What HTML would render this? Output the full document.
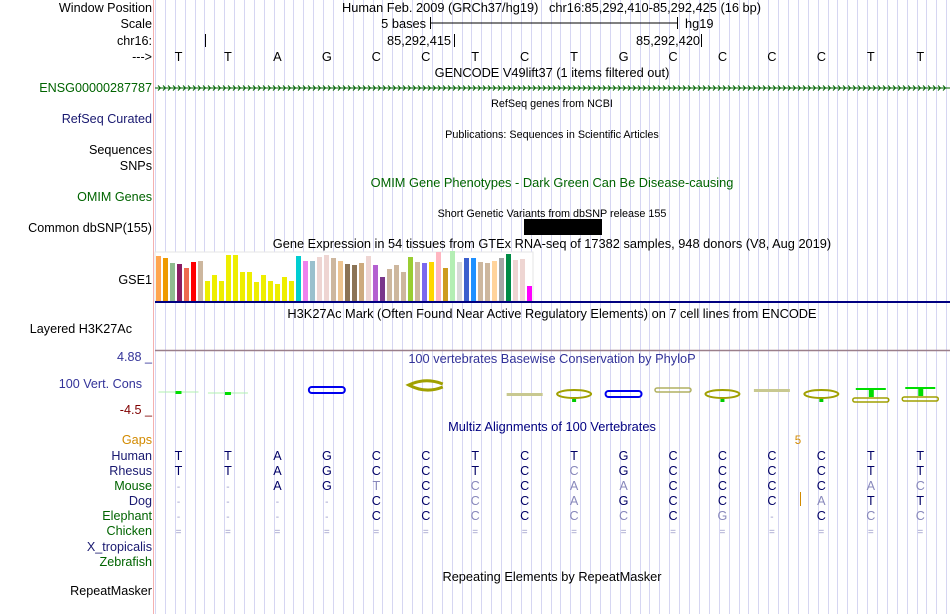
<!DOCTYPE html>
<html><head><meta charset="utf-8"><style>
body{margin:0;background:#fff;width:950px;height:614px;overflow:hidden}
svg{display:block;font-family:"Liberation Sans",sans-serif}
</style></head><body>
<svg id="c" width="950" height="614" viewBox="0 0 950 614">
<g id="grid"></g>
<line x1="153.5" y1="0" x2="153.5" y2="614" stroke="#f4b0b0"/>
<g id="labels" font-size="12.6" text-anchor="end">
<text x="152" y="12">Window Position</text>
<text x="152" y="28">Scale</text>
<text x="152" y="45">chr16:</text>
<text x="152" y="61">---&gt;</text>
<text x="152" y="92" fill="#006400">ENSG00000287787</text>
<text x="152" y="123" fill="#191970">RefSeq Curated</text>
<text x="152" y="154">Sequences</text>
<text x="152" y="170">SNPs</text>
<text x="152" y="201" fill="#006400">OMIM Genes</text>
<text x="152" y="232">Common dbSNP(155)</text>
<text x="152" y="284">GSE1</text>
<text x="132" y="333">Layered H3K27Ac</text>
<text x="152" y="361" fill="#333399">4.88 _</text>
<text x="142" y="388" fill="#333399">100 Vert. Cons</text>
<text x="152" y="414" fill="#800000">-4.5 _</text>
<text x="152" y="444" fill="#d28a00">Gaps</text>
<text x="152" y="460" fill="#191970">Human</text>
<text x="152" y="475" fill="#191970">Rhesus</text>
<text x="152" y="490" fill="#006400">Mouse</text>
<text x="152" y="505" fill="#191970">Dog</text>
<text x="152" y="520" fill="#006400">Elephant</text>
<text x="152" y="535" fill="#006400">Chicken</text>
<text x="152" y="551" fill="#191970">X_tropicalis</text>
<text x="152" y="566" fill="#006400">Zebrafish</text>
<text x="152" y="595">RepeatMasker</text>
</g>
<g font-size="12.8">
<text x="342" y="12">Human Feb. 2009 (GRCh37/hg19)&#160;&#160;&#160;chr16:85,292,410-85,292,425 (16 bp)</text>
<text x="426" y="28" text-anchor="end">5 bases</text>
<line x1="430" y1="23" x2="677" y2="23" stroke="#000"/>
<line x1="430.5" y1="17" x2="430.5" y2="29" stroke="#000"/>
<line x1="677.5" y1="17" x2="677.5" y2="29" stroke="#000"/>
<text x="685" y="28">hg19</text>
<line x1="205.5" y1="34" x2="205.5" y2="47" stroke="#000"/>
<text x="387" y="45">85,292,415</text>
<line x1="454.5" y1="34" x2="454.5" y2="47" stroke="#000"/>
<text x="636" y="45">85,292,420</text>
<line x1="701.5" y1="34" x2="701.5" y2="47" stroke="#000"/>
<g id="bases" text-anchor="middle"></g>
<text x="552" y="77" text-anchor="middle">GENCODE V49lift37 (1 items filtered out)</text>
<line x1="155" y1="88" x2="950" y2="88" stroke="#006400"/>
<g id="arrows" stroke="#006400" fill="none"></g>
<text x="552" y="107" text-anchor="middle" font-size="10.8">RefSeq genes from NCBI</text>
<text x="552" y="138" text-anchor="middle" font-size="10.8">Publications: Sequences in Scientific Articles</text>
<text x="552" y="187" text-anchor="middle" fill="#006400">OMIM Gene Phenotypes - Dark Green Can Be Disease-causing</text>
<text x="552" y="217" text-anchor="middle" font-size="10.8">Short Genetic Variants from dbSNP release 155</text>
<rect x="524" y="219" width="78" height="16" fill="#000"/>
<text x="552" y="248" text-anchor="middle">Gene Expression in 54 tissues from GTEx RNA-seq of 17382 samples, 948 donors (V8, Aug 2019)</text>
<rect x="155" y="252" width="378" height="49" fill="#fff" stroke="#e6e6e6"/>
<g id="gtex"></g>
<line x1="155" y1="302" x2="950" y2="302" stroke="#000080" stroke-width="2"/>
<text x="552" y="318" text-anchor="middle">H3K27Ac Mark (Often Found Near Active Regulatory Elements) on 7 cell lines from ENCODE</text>
<line x1="155" y1="350.5" x2="950" y2="350.5" stroke="#9a7f8a" stroke-width="1.5"/>
<text x="552" y="363" text-anchor="middle" fill="#333399">100 vertebrates Basewise Conservation by PhyloP</text>
<g id="cons"></g>
<text x="552" y="431" text-anchor="middle" fill="#000080">Multiz Alignments of 100 Vertebrates</text>
<text x="798" y="444" text-anchor="middle" fill="#d28a00" font-size="11.5">5</text>
<line x1="800.5" y1="492" x2="800.5" y2="506" stroke="#d28a00"/>
<g id="aln" text-anchor="middle"></g>
<text x="552" y="581" text-anchor="middle">Repeating Elements by RepeatMasker</text>
</g>
</svg>
<script>
const NS='http://www.w3.org/2000/svg';
const bases=['T','T','A','G','C','C','T','C','T','G','C','C','C','C','T','T'];
const gtexHeights=[45,43,38,37,33,39,40,20,26,20,46,46,29,29,19,26,20,17,24,20,45,40,40,44,46,43,40,37,36,38,45,36,24,32,36,29,44,39,38,39,49,33,50,39,43,43,39,38,40,43,47,41,42,15];
const gtexColors=['#FFA54F','#EE9A00','#8FBC8F','#8B1C62','#EE6A50','#FF0000','#CDB79E','#EEEE00','#EEEE00','#EEEE00','#EEEE00','#EEEE00','#EEEE00','#EEEE00','#EEEE00','#EEEE00','#EEEE00','#EEEE00','#EEEE00','#EEEE00','#00CED1','#EE82EE','#9AC0CD','#EED5D2','#EED5D2','#CDB79E','#EEC591','#8B7355','#8B7355','#CDAA7D','#EED5D2','#B460D0','#7A378B','#CDB79E','#CDB79E','#CDB79E','#9ACD32','#CDB79E','#7B68EE','#FFD700','#FFB6C1','#CD9B1D','#B4EEB4','#D9D9D9','#3A5FCD','#1E90FF','#CDB79E','#CDB79E','#FFD39B','#A6A6A6','#008B45','#EED5D2','#EED5D2','#FF00FF'];
const alnRhesus='TTAGCCTCcGCCCCTT';
const alnMouse='--AGtCcCaaCCCCac';
const alnDog='----CCcCaGCCCaTT';
const alnElephant='----CCcCccCg-Ccc';
const alnChicken='================';
const baseX=i=>178.5+49.45*i;
const mk=(tag,attrs,parent)=>{const e=document.createElementNS(NS,tag);for(const k in attrs)e.setAttribute(k,attrs[k]);parent.appendChild(e);return e;};
const grid=document.getElementById('grid');
for(let x=155;x<950;x+=9.89){mk('line',{x1:Math.round(x)+.5,x2:Math.round(x)+.5,y1:0,y2:614,stroke:'#d6d6f2'},grid);}
const bg=document.getElementById('bases');
bases.forEach((b,i)=>{const t=mk('text',{x:baseX(i),y:61},bg);t.textContent=b;

});
const ar=document.getElementById('arrows');
for(let x=158;x<948;x+=5){mk('path',{d:`M${x} 85.5 L${x+2.5} 88 L${x} 90.5`},ar);}
const gt=document.getElementById('gtex');const base=301;
gtexHeights.forEach((h,i)=>{const r=mk('rect',{x:156+7*i,y:base-h,width:5,height:h,fill:gtexColors[i]},gt);

});
const cons=document.getElementById('cons');
const glyphs=[[0,'g',392],[1,'g',393],[3,'bC',390],[5,'oCbig',387],[7,'o-',394],[8,'oC',396],[9,'bC',394],[10,'o=',390],[11,'oC',396],[12,'o-',390],[13,'oC',396],[14,'gT',398],[15,'gT',397]];
glyphs.forEach(([i,k,y])=>{const cx=baseX(i);
 if(k==='g'){mk('line',{x1:cx-20,x2:cx+20,y1:y,y2:y,stroke:'#b0f0b0'},cons);mk('rect',{x:cx-3,y:y-1,width:6,height:3,fill:'#00dd00'},cons);}
 else if(k==='bC'){mk('rect',{x:cx-18,y:y-3,width:36,height:6,rx:3,fill:'none',stroke:'#0000ee',"stroke-width":2},cons);}
 else if(k==='oCbig'){mk('path',{d:`M${cx+17} ${y-3} Q${cx} ${y-10} ${cx-17} ${y-2} Q${cx} ${y+7} ${cx+17} ${y}`,fill:'none',stroke:'#a0a000',"stroke-width":3},cons);}
 else if(k==='o-'){mk('rect',{x:cx-18,y:y-1,width:36,height:3,fill:'#c8c890'},cons);}
 else if(k==='o='){mk('rect',{x:cx-18,y:y-2,width:36,height:4,rx:2,fill:'none',stroke:'#b0b060',"stroke-width":1.5},cons);}
 else if(k==='oC'){mk('ellipse',{cx:cx,cy:y-2,rx:17,ry:4,fill:'none',stroke:'#a0a000',"stroke-width":2},cons);mk('rect',{x:cx-2,y:y+3,width:4,height:3,fill:'#00cc00'},cons);}
 else if(k==='gT'){mk('rect',{x:cx-15,y:y-10,width:30,height:2,fill:'#00dd00'},cons);mk('rect',{x:cx-2,y:y-10,width:5,height:9,fill:'#00dd00'},cons);mk('rect',{x:cx-18,y:y,width:36,height:4,rx:2,fill:'none',stroke:'#a0a000',"stroke-width":1.5},cons);}
});
const aln=document.getElementById('aln');
const rows=[[bases.join(''),460],[alnRhesus,475],[alnMouse,490],[alnDog,505],[alnElephant,520],[alnChicken,535]];
rows.forEach(([s,y],r)=>{[...s].forEach((ch,i)=>{let c,t=ch;
 if(ch==='-'||ch==='='){c='#9a9ac8';}
 else if(ch===ch.toLowerCase()){c='#8888bb';t=ch.toUpperCase();}
 else c='#000066';
 const e=mk('text',{x:baseX(i),y:y,fill:c,"font-size":(ch==='-'||ch==='=')?10:12.6},aln);e.textContent=t;
 
 });});
</script>
</body></html>
